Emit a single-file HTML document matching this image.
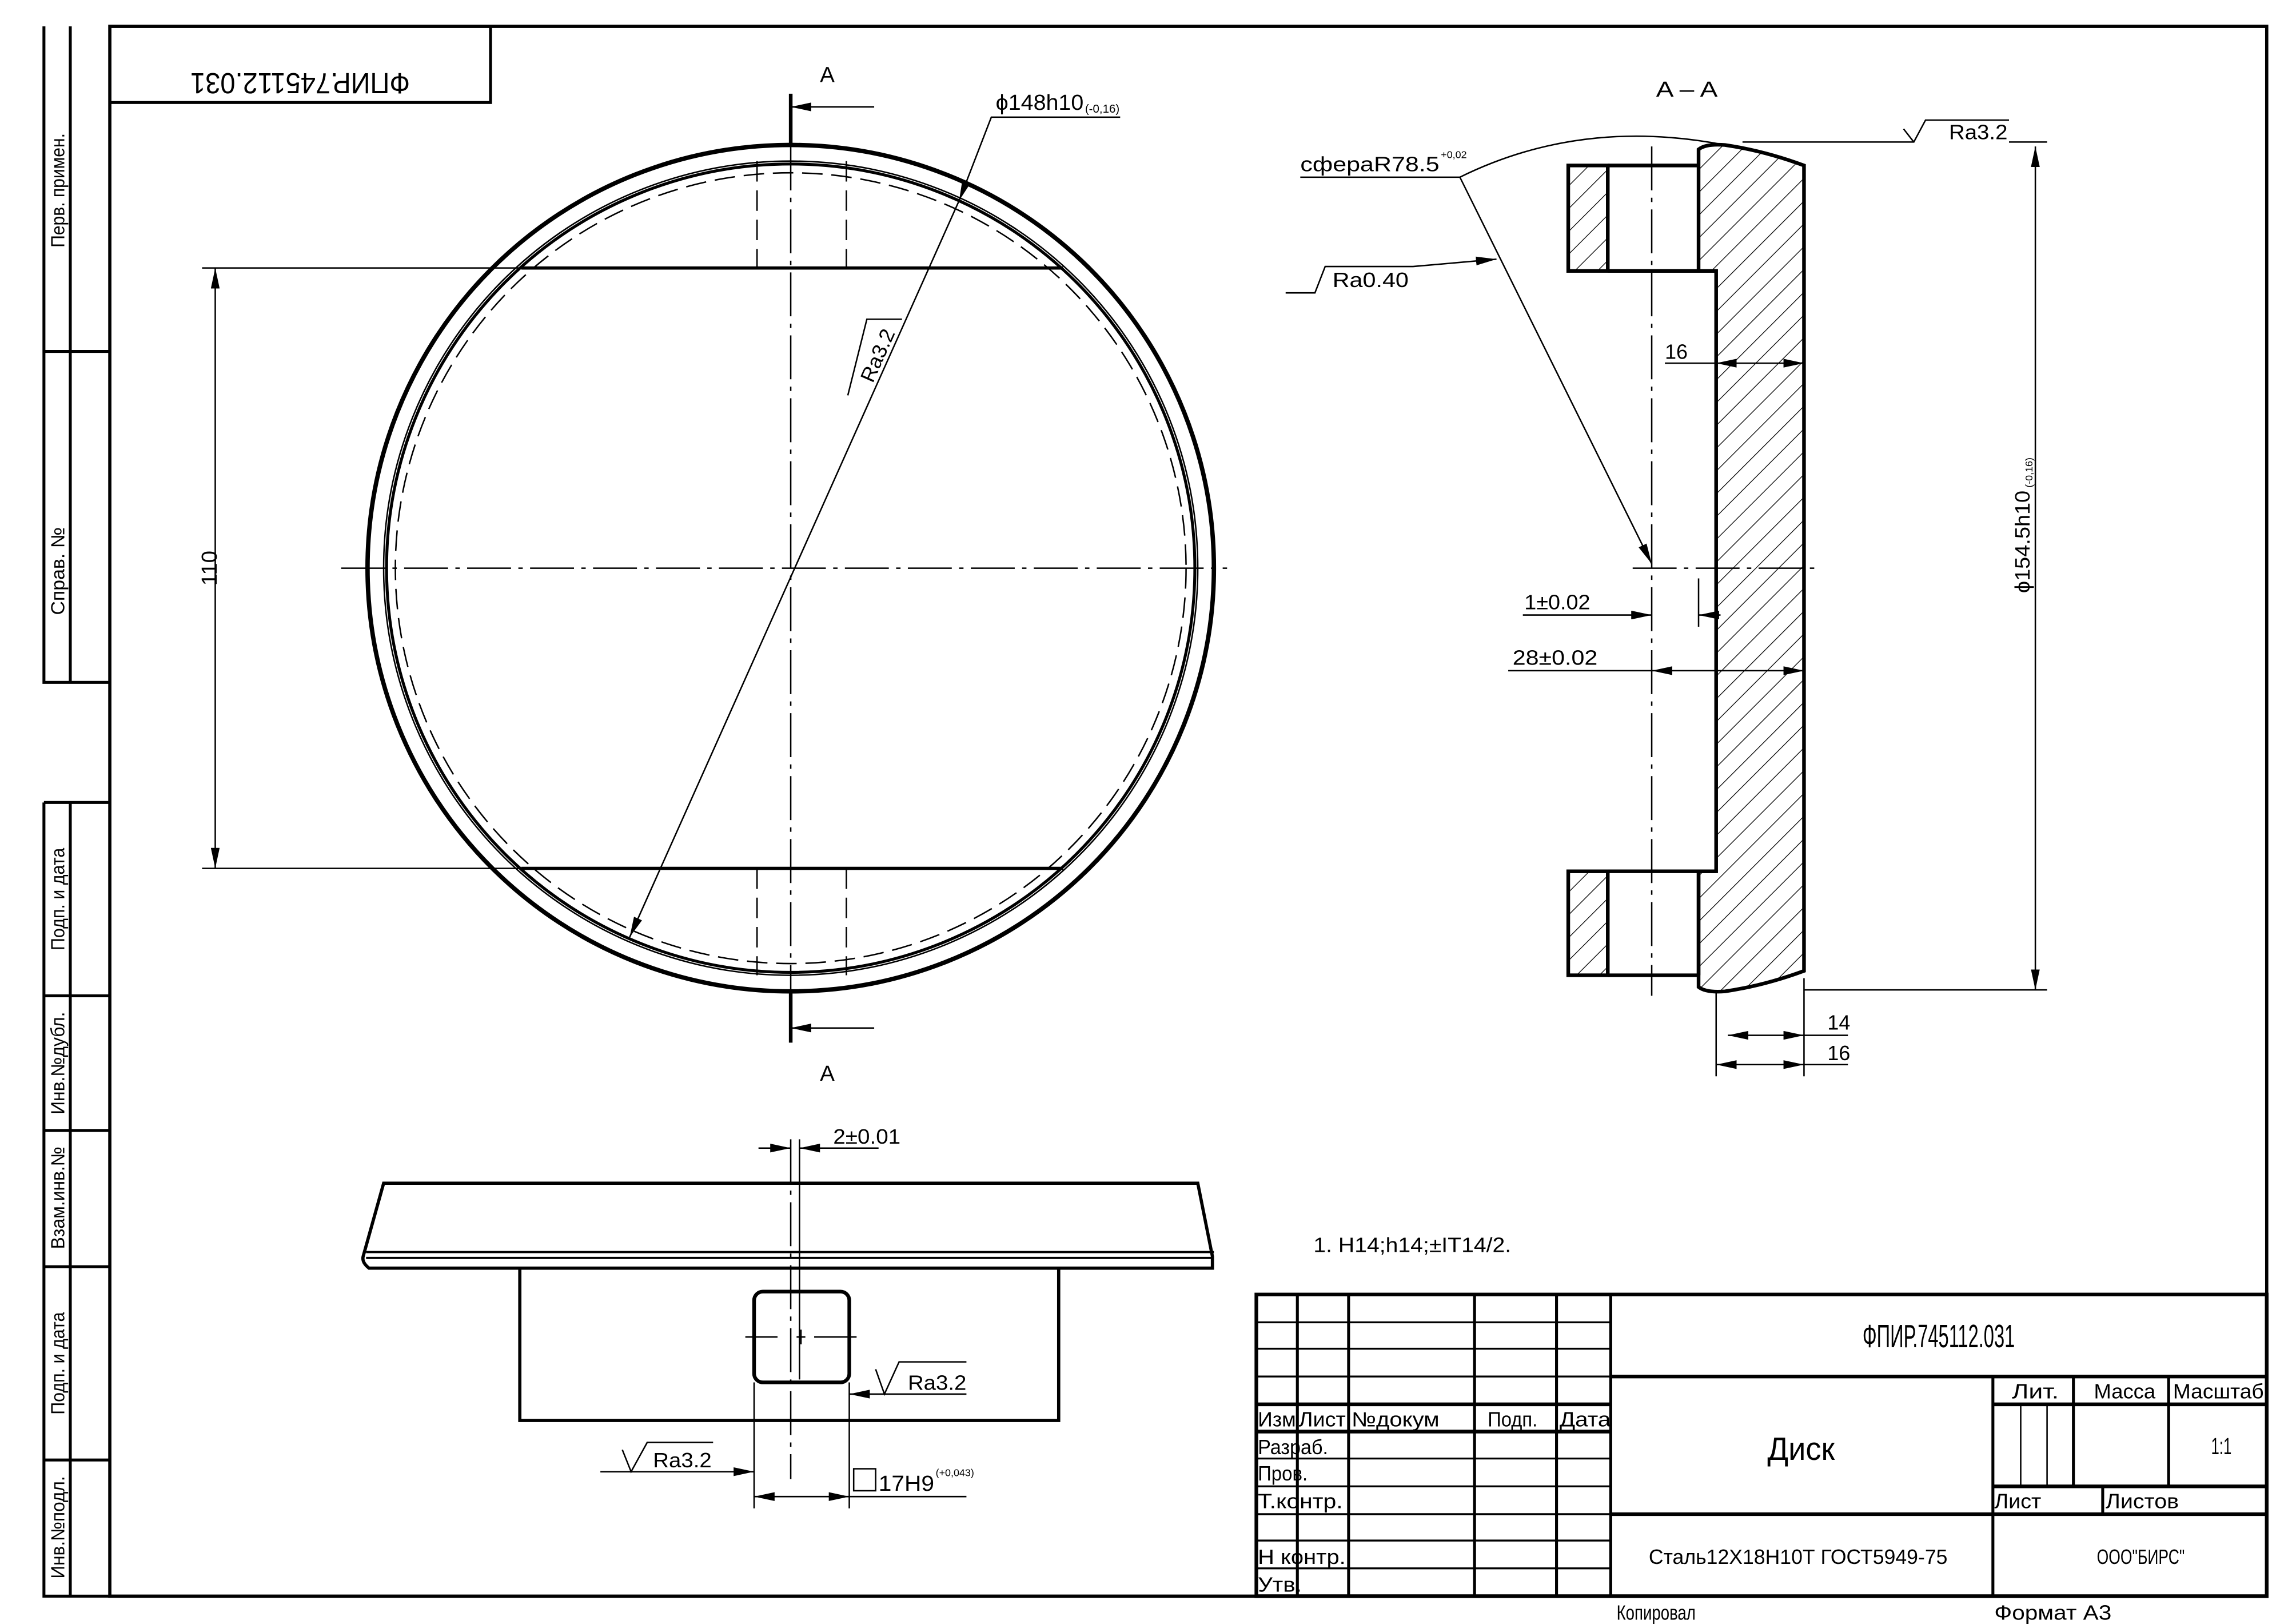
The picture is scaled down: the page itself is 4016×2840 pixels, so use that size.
<!DOCTYPE html>
<html><head><meta charset="utf-8"><style>
html,body{margin:0;padding:0;background:#fff}
svg{display:block}
text{font-family:"Liberation Sans",sans-serif;fill:#000}
.t{font-family:"Liberation Sans Narrow","Liberation Sans",sans-serif}
</style></head><body>
<svg width="4016" height="2840" viewBox="0 0 1568 1109" preserveAspectRatio="none" xmlns="http://www.w3.org/2000/svg">
<defs>
<marker id="a" viewBox="0 0 14 6" refX="14" refY="3" markerWidth="14" markerHeight="6" markerUnits="userSpaceOnUse" orient="auto-start-reverse"><path d="M0,0 L14,3 L0,6 Z" fill="#000"/></marker>
<pattern id="h" patternUnits="userSpaceOnUse" width="11" height="11" patternTransform="rotate(45)"><line x1="0" y1="0" x2="0" y2="11" stroke="#000" stroke-width="1"/></pattern>
</defs>
<rect width="1568" height="1109" fill="#fff"/>
<g fill="none" stroke="#000">
<rect x="75" y="18" width="1473" height="1072" stroke-width="2.2"/>
<path d="M30,18 V466 H75 M48,18 V466 M30,240 H75" stroke-width="2"/>
<path d="M30,548 V1090 H75 M30,548 H75 M48,548 V1090 M30,680 H75 M30,772 H75 M30,865 H75 M30,997 H75" stroke-width="2"/>
<rect x="75" y="18" width="260" height="52" stroke-width="2"/>
</g>
<text x="205" y="38" font-size="20" text-anchor="middle" transform="rotate(180 205 44)" textLength="150" lengthAdjust="spacingAndGlyphs">ФПИР.745112.031</text>
<g font-size="13">
<text transform="translate(44,130) rotate(-90)" text-anchor="middle" textLength="78" lengthAdjust="spacingAndGlyphs">Перв. примен.</text>
<text transform="translate(44,390) rotate(-90)" text-anchor="middle" textLength="60" lengthAdjust="spacingAndGlyphs">Справ. №</text>
<text transform="translate(44,614) rotate(-90)" text-anchor="middle" textLength="70" lengthAdjust="spacingAndGlyphs">Подп. и дата</text>
<text transform="translate(44,726) rotate(-90)" text-anchor="middle" textLength="70" lengthAdjust="spacingAndGlyphs">Инв.№дубл.</text>
<text transform="translate(44,818) rotate(-90)" text-anchor="middle" textLength="70" lengthAdjust="spacingAndGlyphs">Взам.инв.№</text>
<text transform="translate(44,931) rotate(-90)" text-anchor="middle" textLength="70" lengthAdjust="spacingAndGlyphs">Подп. и дата</text>
<text transform="translate(44,1043) rotate(-90)" text-anchor="middle" textLength="70" lengthAdjust="spacingAndGlyphs">Инв.№подл.</text>
</g>

<g fill="none" stroke="#000">
<circle cx="540" cy="388" r="289" stroke-width="3"/>
<circle cx="540" cy="388" r="278" stroke-width="1"/>
<circle cx="540" cy="388" r="276" stroke-width="2"/>
<circle cx="540" cy="388" r="270" stroke-width="1" stroke-dasharray="14 6"/>
<path d="M356,183 H726 M356,593 H726" stroke-width="2.2"/>
<path d="M517,110 V183 M578,110 V183 M517,593 V666 M578,593 V666" stroke-width="1" stroke-dasharray="14 6"/>
<path d="M233,388 H838" stroke-width="1" stroke-dasharray="30 5 3 5"/>
<path d="M540,100 V676" stroke-width="1" stroke-dasharray="30 5 3 5"/>
<path d="M540,64 V100 M540,676 V712" stroke-width="2.5"/>
<path d="M597,73 H540" stroke-width="1" marker-end="url(#a)"/>
<path d="M597,702 H540" stroke-width="1" marker-end="url(#a)"/>
<path d="M138,183 H356 M138,593 H356" stroke-width="1"/>
<path d="M147,183 V593" stroke-width="1" marker-start="url(#a)" marker-end="url(#a)"/>
<path d="M765,80 H677 L655,137" stroke-width="1" marker-end="url(#a)"/>
<path d="M655,137 L430,640" stroke-width="1" marker-end="url(#a)"/>
<path d="M579,270 L592,218 L616,218" stroke-width="1"/>
</g>
<text x="565" y="56" font-size="15" text-anchor="middle" class="t">A</text>
<text x="565" y="738" font-size="15" text-anchor="middle" class="t">A</text>
<text transform="translate(148,388) rotate(-90)" font-size="15" text-anchor="middle">110</text>
<text x="680" y="75" font-size="15" textLength="60" lengthAdjust="spacingAndGlyphs">ϕ148h10</text>
<text x="741" y="77" font-size="8">(-0,16)</text>
<text transform="translate(596,262) rotate(-66)" font-size="14" textLength="38" lengthAdjust="spacingAndGlyphs">Ra3.2</text>

<text x="1152" y="66" font-size="15" text-anchor="middle" textLength="42" lengthAdjust="spacingAndGlyphs">A – A</text>
<g stroke="#000" stroke-width="2.5" fill="url(#h)">
<rect x="1071" y="113" width="27" height="72"/>
<rect x="1071" y="595" width="27" height="71"/>
<path d="M1160,113 V102 Q1165,98 1178,99 Q1205,103 1232,113 V663 Q1205,673 1178,677 Q1165,678 1160,674 V595 H1172 V185 H1160 Z"/>
</g>
<g fill="none" stroke="#000">
<path d="M1098,113 H1160 M1098,185 H1172 M1098,595 H1172 M1098,666 H1160 M1160,595 V666" stroke-width="2.5"/>
<path d="M1128,100 V680" stroke-width="1" stroke-dasharray="30 5 3 5"/>
<path d="M1115,388 H1240" stroke-width="1" stroke-dasharray="30 5 3 5"/>
<path d="M1137,248 H1172" stroke-width="1"/>
<path d="M1172,248 H1232" stroke-width="1" marker-start="url(#a)" marker-end="url(#a)"/>
<path d="M1040,420 H1128" stroke-width="1" marker-end="url(#a)"/>
<path d="M1175,420 H1160" stroke-width="1" marker-end="url(#a)"/>
<path d="M1160,395 V428" stroke-width="1"/>
<path d="M1030,458 H1128" stroke-width="1"/>
<path d="M1128,458 H1232" stroke-width="1" marker-start="url(#a)" marker-end="url(#a)"/>
<path d="M888,121 H997 L1128,385" stroke-width="1" marker-end="url(#a)"/>
<path d="M997,121 Q1080,80 1178,99" stroke-width="1"/>
<path d="M878,200 H898 L905,182 H965 L1022,177" stroke-width="1" marker-end="url(#a)"/>
<path d="M1190,97 H1307 L1315,82 H1372" stroke-width="1"/>
<path d="M1307,97 L1300,88" stroke-width="1"/>
<path d="M1232,676 H1398" stroke-width="1"/>
<path d="M1372,97 H1398" stroke-width="1"/>
<path d="M1390,100 V676" stroke-width="1" marker-start="url(#a)" marker-end="url(#a)"/>
<path d="M1172,678 V735 M1232,668 V735" stroke-width="1"/>
<path d="M1180,707 H1232" stroke-width="1" marker-start="url(#a)" marker-end="url(#a)"/>
<path d="M1232,707 H1262 M1232,727 H1262" stroke-width="1"/>
<path d="M1172,727 H1232" stroke-width="1" marker-start="url(#a)" marker-end="url(#a)"/>
</g>
<text x="888" y="117" font-size="14" textLength="95" lengthAdjust="spacingAndGlyphs">сфераR78.5</text>
<text x="984" y="108" font-size="7">+0,02</text>
<text x="910" y="196" font-size="14" textLength="52" lengthAdjust="spacingAndGlyphs">Ra0.40</text>
<text x="1137" y="245" font-size="14">16</text>
<text x="1041" y="416" font-size="14" textLength="45" lengthAdjust="spacingAndGlyphs">1±0.02</text>
<text x="1033" y="454" font-size="14" textLength="58" lengthAdjust="spacingAndGlyphs">28±0.02</text>
<text x="1331" y="95" font-size="14" textLength="40" lengthAdjust="spacingAndGlyphs">Ra3.2</text>
<text transform="translate(1386,405) rotate(-90)" font-size="14" textLength="70" lengthAdjust="spacingAndGlyphs">ϕ154.5h10</text>
<text transform="translate(1388,333) rotate(-90)" font-size="7">(-0,16)</text>
<text x="1248" y="703" font-size="14">14</text>
<text x="1248" y="724" font-size="14">16</text>
<text x="897" y="855" font-size="14" textLength="135" lengthAdjust="spacingAndGlyphs">1.  H14;h14;±IT14/2.</text>

<g fill="none" stroke="#000">
<path d="M262,808 H818 L828,858 V866 H252 Q247,862 248,858 Z" stroke-width="2.2"/>
<path d="M250,855 H829 M250,859 H829" stroke-width="1.5"/>
<path d="M355,866 V970 H723 V866" stroke-width="2.2"/>
<rect x="515" y="882" width="65" height="62" rx="6" stroke-width="2.5"/>
<path d="M540,778 V1010" stroke-width="1" stroke-dasharray="30 5 3 5"/>
<path d="M546,778 V942" stroke-width="1"/>
<path d="M509,913 H531 M544,913 H550 M556,913 H585 M547,908 V918" stroke-width="1"/>
<path d="M518,784 H540" stroke-width="1" marker-end="url(#a)"/>
<path d="M600,784 H546" stroke-width="1" marker-end="url(#a)"/>
<path d="M660,952 H580" stroke-width="1" marker-end="url(#a)"/>
<path d="M598,935 L604,952 L614,930 H660" stroke-width="1"/>
<path d="M410,1005 H515" stroke-width="1" marker-end="url(#a)"/>
<path d="M425,990 L431,1005 L442,985 H487" stroke-width="1"/>
<path d="M515,944 V1030 M580,944 V1030" stroke-width="1"/>
<path d="M515,1022 H580" stroke-width="1" marker-start="url(#a)" marker-end="url(#a)"/>
<path d="M580,1022 H660" stroke-width="1"/>
<rect x="583" y="1003" width="15" height="15" stroke-width="1"/>
</g>
<text x="569" y="781" font-size="14" textLength="46" lengthAdjust="spacingAndGlyphs">2±0.01</text>
<text x="620" y="949" font-size="14" textLength="40" lengthAdjust="spacingAndGlyphs">Ra3.2</text>
<text x="446" y="1002" font-size="14" textLength="40" lengthAdjust="spacingAndGlyphs">Ra3.2</text>
<text x="600" y="1018" font-size="15" textLength="38" lengthAdjust="spacingAndGlyphs">17H9</text>
<text x="639" y="1008" font-size="7">(+0,043)</text>

<g fill="none" stroke="#000">
<rect x="858" y="884" width="690" height="206" stroke-width="2.5"/>
<path d="M886,884 V1090 M921,884 V1090 M1007,884 V1090 M1063,884 V1090 M1100,884 V1090" stroke-width="2"/>
<path d="M858,903 H1100 M858,921 H1100 M858,940 H1100 M858,996 H1100 M858,1015 H1100 M858,1034 H1100 M858,1052 H1100 M858,1071 H1100" stroke-width="1.3"/>
<path d="M858,959 H1100 M858,977.6 H1100" stroke-width="2.5"/>
<path d="M1100,940 H1548 M1100,1034 H1548 M1361,1015 H1548 M1361,959 H1548" stroke-width="2.5"/>
<path d="M1361,940 V1090 M1416,940 V1015 M1481,940 V1015 M1436,1015 V1034" stroke-width="2"/>
<path d="M1380,959 V1015 M1398,959 V1015" stroke-width="1"/>
</g>
<g font-size="14" class="t">
<text x="1324" y="920" font-size="22" text-anchor="middle" textLength="104" lengthAdjust="spacingAndGlyphs">ФПИР.745112.031</text>
<text x="1230" y="997" font-size="22" text-anchor="middle" textLength="46" lengthAdjust="spacingAndGlyphs">Диск</text>
<text x="859" y="974" textLength="26" lengthAdjust="spacingAndGlyphs">Изм</text>
<text x="887" y="974" textLength="32" lengthAdjust="spacingAndGlyphs">Лист</text>
<text x="923" y="974" textLength="60" lengthAdjust="spacingAndGlyphs">№докум</text>
<text x="1016" y="974" textLength="34" lengthAdjust="spacingAndGlyphs">Подп.</text>
<text x="1065" y="974" textLength="35" lengthAdjust="spacingAndGlyphs">Дата</text>
<text x="859" y="993" textLength="48" lengthAdjust="spacingAndGlyphs">Разраб.</text>
<text x="859" y="1011" textLength="34" lengthAdjust="spacingAndGlyphs">Пров.</text>
<text x="859" y="1030" textLength="58" lengthAdjust="spacingAndGlyphs">Т.контр.</text>
<text x="859" y="1068" textLength="60" lengthAdjust="spacingAndGlyphs">Н контр.</text>
<text x="859" y="1087" textLength="30" lengthAdjust="spacingAndGlyphs">Утв.</text>
<text x="1374" y="955" textLength="32" lengthAdjust="spacingAndGlyphs">Лит.</text>
<text x="1430" y="955" textLength="42" lengthAdjust="spacingAndGlyphs">Масса</text>
<text x="1484" y="955" textLength="62" lengthAdjust="spacingAndGlyphs">Масштаб</text>
<text x="1510" y="993" font-size="16" textLength="14" lengthAdjust="spacingAndGlyphs">1:1</text>
<text x="1362" y="1030" textLength="32" lengthAdjust="spacingAndGlyphs">Лист</text>
<text x="1438" y="1030" textLength="50" lengthAdjust="spacingAndGlyphs">Листов</text>
<text x="1228" y="1068" text-anchor="middle" textLength="204" lengthAdjust="spacingAndGlyphs">Сталь12Х18Н10Т ГОСТ5949-75</text>
<text x="1462" y="1068" text-anchor="middle" textLength="60" lengthAdjust="spacingAndGlyphs">ООО"БИРС"</text>
<text x="1104" y="1106" textLength="54" lengthAdjust="spacingAndGlyphs">Копировал</text>
<text x="1362" y="1106" textLength="80" lengthAdjust="spacingAndGlyphs">Формат  А3</text>
</g>
</svg>
</body></html>
